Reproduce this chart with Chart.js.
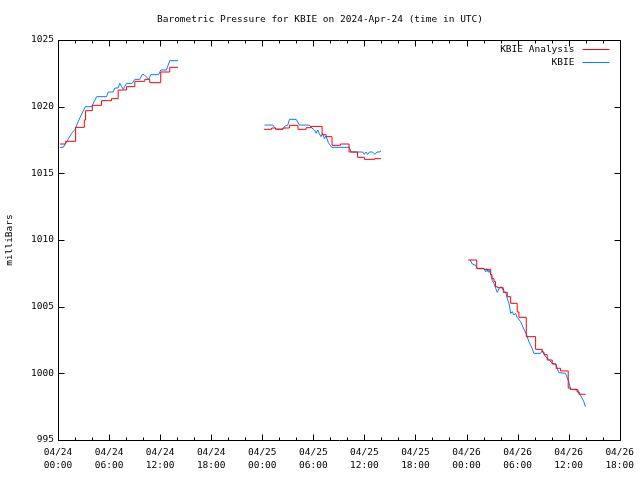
<!DOCTYPE html>
<html>
<head>
<meta charset="utf-8">
<script src="https://cdn.jsdelivr.net/npm/chart.js@4/dist/chart.umd.min.js"></script>
<style>
    html, body { margin: 0; padding: 0; background: #fff; }
    #wrap { width: 640px; height: 480px; }
</style>
</head>
<body>
<div id="wrap"><canvas id="pressureChart" width="640" height="480"></canvas></div>
<script>
// hours since 2024-04-24 00:00 UTC, pressure in mb (null = no data between days)
const analysisHours = [
    0.23, 0.9, 2.07, 3.09, 3.24, 4.03, 5.12, 6.29, 7.07, 8.05, 9.03, 10.2, 10.78, 12.07, 13.13, 14.1,
    19,
    24.2, 25.1, 25.56, 26.42, 27.2, 28.2, 29.16, 29.74, 31.03, 31.5, 32.2, 33.18, 34.2, 35.2, 36.0, 37.2, 37.95,
    43,
    48.2, 49.2, 50.06, 50.84, 51.0, 51.23, 51.4, 51.62, 52.32, 52.79, 53.19, 53.96, 54.16, 55.02, 56.12,
    56.9, 57.1, 57.48, 58.07, 58.54, 59.05, 59.95, 60.22, 61.0, 61.2, 62.0
];
const analysisValues = [
    1017.2, 1017.4, 1018.45, 1019.0, 1019.7, 1020.1, 1020.45, 1020.6, 1021.25, 1021.5, 1021.9, 1022.05, 1021.8, 1022.6, 1022.95, 1022.95,
    null,
    1018.3, 1018.4, 1018.3, 1018.4, 1018.6, 1018.3, 1018.42, 1018.52, 1017.9, 1017.75, 1017.1, 1017.2, 1016.6, 1016.2, 1016.05, 1016.1, 1016.1,
    null,
    1008.5, 1007.87, 1007.8, 1007.4, 1007.1, 1006.9, 1006.5, 1006.42, 1006.07, 1005.75, 1005.25, 1004.6, 1004.2, 1002.75, 1001.8,
    1001.6, 1001.4, 1001.0, 1000.7, 1000.38, 1000.18, 998.9, 998.8, 998.6, 998.43, 998.43
];

const obsHours = [
    0.23, 0.62, 1.6, 2.0, 2.38, 3.2, 3.95, 4.54, 5.71, 5.9, 6.48, 6.68, 7.07, 7.27, 7.66, 8.05, 8.71, 9.03,
    9.61, 9.89, 10.12, 10.67, 10.9, 11.84, 12.07, 12.74, 13.13, 14.1,
    19,
    24.27, 25.24, 25.63, 26.41, 26.69, 27.0, 27.2, 27.98, 28.37, 29.54, 29.74, 30.13, 30.33, 30.52, 30.72,
    30.91, 31.1, 31.3, 31.5, 31.77, 32.16, 34.23, 34.43, 35.6, 35.8, 35.99, 36.19, 36.38, 36.58, 36.96,
    37.24, 37.48, 37.75, 37.95,
    43,
    48.42, 48.69, 49.08, 49.27, 50.06, 50.25, 50.37, 50.53, 50.64, 50.84, 51.03, 51.23, 51.43, 51.62, 51.82,
    52.09, 52.32, 52.6, 52.79, 52.99, 53.19, 53.38, 53.58, 53.77, 53.96, 54.36, 54.75, 55.06, 55.33, 55.72,
    55.92, 56.7, 56.9, 57.29, 57.68, 58.07, 58.46, 58.85, 59.63, 60.02, 60.22, 61.1, 61.38, 61.77, 61.97
];
const obsValues = [
    1016.95, 1016.95, 1018.0, 1018.3, 1018.9, 1020.0, 1020.0, 1020.75, 1020.75, 1021.1, 1021.1, 1021.4, 1021.4, 1021.75, 1021.3, 1021.75, 1021.75, 1022.05,
    1022.05, 1022.4, 1022.4, 1022.05, 1022.4, 1022.4, 1022.75, 1022.75, 1023.45, 1023.45,
    null,
    1018.62, 1018.62, 1018.32, 1018.32, 1018.55, 1018.62, 1019.05, 1019.05, 1018.62, 1018.62, 1018.45, 1018.25, 1018.0, 1018.25, 1017.95,
    1017.75, 1018.0, 1017.6, 1017.8, 1017.3, 1016.95, 1016.95, 1016.6, 1016.6, 1016.6, 1016.42, 1016.6, 1016.42, 1016.6, 1016.6,
    1016.42, 1016.6, 1016.6, 1016.68,
    null,
    1008.5, 1008.2, 1008.1, 1007.85, 1007.85, 1007.6, 1007.85, 1007.6, 1007.75, 1007.45, 1006.95, 1006.75, 1006.37, 1006.07, 1006.37,
    1006.5, 1006.25, 1006.1, 1005.6, 1005.25, 1004.5, 1004.62, 1004.37, 1004.5, 1004.2, 1003.87, 1003.3, 1002.9, 1002.37, 1001.87,
    1001.5, 1001.5, 1001.7, 1001.25, 1001.05, 1000.75, 1000.7, 1000.05, 1000.0, 999.37, 998.8, 998.75, 998.37, 997.9, 997.5
];

const xTickLabels = [
    "04/24\n00:00", "04/24\n06:00", "04/24\n12:00", "04/24\n18:00",
    "04/25\n00:00", "04/25\n06:00", "04/25\n12:00", "04/25\n18:00",
    "04/26\n00:00", "04/26\n06:00", "04/26\n12:00", "04/26\n18:00"
];
const seriesNames = ["KBIE Analysis", "KBIE"];
const seriesColors = ["#ff0000", "#0080ff"];

const FONT = "DejaVu Sans Mono";
const FSIZE = 9.5;

const toPoints = (hours, values) => hours.map((h, i) => ({ x: h, y: values[i] }));

// gnuplot style frame: border box, inward ticks on all four sides, legend at top right
const gnuplotFrame = {
    id: "gnuplotFrame",
    afterDatasetsDraw(chart) {
        const { ctx, chartArea: a, scales } = chart;
        const x = scales.x;
        const y = scales.y;
        ctx.save();
        ctx.strokeStyle = "#000";
        ctx.lineWidth = 1;
        ctx.beginPath();
        const L = Math.round(a.left) + 0.5;
        const R = Math.round(a.right) + 0.5;
        const T = Math.round(a.top) + 0.5;
        const B = Math.round(a.bottom) + 0.5;
        ctx.rect(L, T, R - L, B - T);
        for (let h = x.min; h <= x.max; h += 2) {
            const px = Math.round(x.getPixelForValue(h)) + 0.5;
            const len = h % 6 === 0 ? 6 : 3;
            ctx.moveTo(px, B);
            ctx.lineTo(px, B - len);
            ctx.moveTo(px, T);
            ctx.lineTo(px, T + len);
        }
        for (let v = y.min; v <= y.max; v += 5) {
            const py = Math.round(y.getPixelForValue(v)) + 0.5;
            ctx.moveTo(L, py);
            ctx.lineTo(L + 6, py);
            ctx.moveTo(R, py);
            ctx.lineTo(R - 6, py);
        }
        ctx.stroke();

        ctx.font = FSIZE + "px '" + FONT + "'";
        ctx.textAlign = "right";
        ctx.textBaseline = "middle";
        chart.data.datasets.forEach((ds, i) => {
            const ly = Math.round(a.top) + 9 + i * 13 + 0.5;
            ctx.fillStyle = "#000";
            ctx.fillText(ds.label, R - 46, ly);
            ctx.strokeStyle = ds.borderColor;
            ctx.beginPath();
            ctx.moveTo(R - 38, ly);
            ctx.lineTo(R - 11, ly);
            ctx.stroke();
        });
        ctx.restore();
    },
};

const ctx = document.getElementById("pressureChart").getContext("2d");
const pressureChart = new Chart(ctx, {
    type: "line",
    data: {
        datasets: [
            {
                label: seriesNames[0],
                data: toPoints(analysisHours, analysisValues),
                borderColor: seriesColors[0],
                borderWidth: 1,
                stepped: true,
                pointRadius: 0,
                spanGaps: false,
            },
            {
                label: seriesNames[1],
                data: toPoints(obsHours, obsValues),
                borderColor: seriesColors[1],
                borderWidth: 1,
                pointRadius: 0,
                tension: 0,
                spanGaps: false,
            },
        ],
    },
    options: {
        responsive: false,
        animation: false,
        devicePixelRatio: 1,
        layout: { padding: 0 },
        plugins: {
            legend: { display: false },
            tooltip: { enabled: false },
            title: {
                display: true,
                text: "Barometric Pressure for KBIE on 2024-Apr-24 (time in UTC)",
                color: "#000",
                font: { family: FONT, size: FSIZE, weight: "normal" },
                padding: { top: 14, bottom: 14.6 },
            },
        },
        scales: {
            x: {
                type: "linear",
                min: 0,
                max: 66,
                grid: { display: false, drawTicks: false },
                border: { display: false },
                afterFit: (s) => { s.height = 40; },
                ticks: {
                    stepSize: 6,
                    autoSkip: false,
                    maxRotation: 0,
                    padding: 6,
                    color: "#000",
                    font: { family: FONT, size: FSIZE, lineHeight: 1.38 },
                    callback: (v) => {
                        const label = xTickLabels[Math.round(v / 6)];
                        return label ? label.split("\n") : "";
                    },
                },
            },
            y: {
                min: 995,
                max: 1025,
                grid: { display: false, drawTicks: false },
                border: { display: false },
                afterFit: (s) => { s.width = 58; },
                title: {
                    display: true,
                    text: "milliBars",
                    color: "#000",
                    font: { family: FONT, size: FSIZE },
                    padding: { top: 4, bottom: 0 },
                },
                ticks: {
                    stepSize: 5,
                    padding: 4,
                    color: "#000",
                    font: { family: FONT, size: FSIZE },
                    callback: (v) => String(v),
                },
            },
            // empty right axis keeps the plot area at gnuplot's right margin
            yRight: {
                position: "right",
                min: 995,
                max: 1025,
                grid: { display: false, drawTicks: false },
                border: { display: false },
                ticks: { display: false },
                afterFit: (s) => { s.width = 19; },
            },
        },
    },
    plugins: [gnuplotFrame],
});
</script>
</body>
</html>
